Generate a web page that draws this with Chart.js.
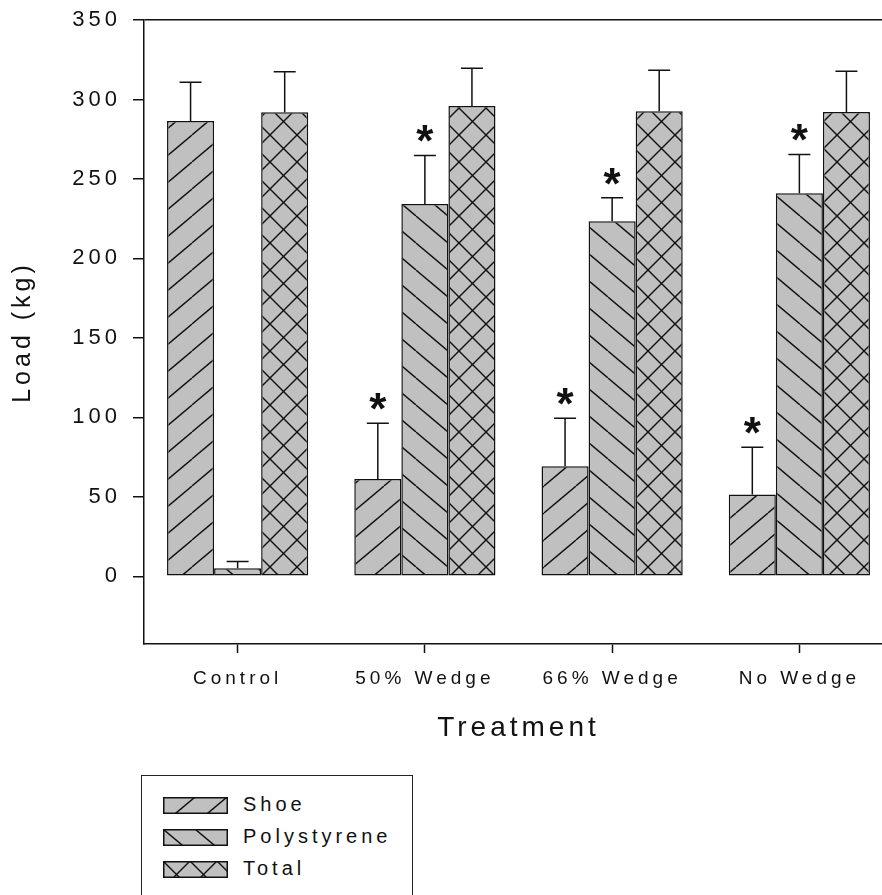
<!DOCTYPE html>
<html>
<head>
<meta charset="utf-8">
<script src="https://cdn.jsdelivr.net/npm/chart.js@4"></script>
<style>
  html, body { margin: 0; padding: 0; background: #fff; overflow: hidden; width: 882px; height: 895px; }
  #wrap { position: absolute; left: 0; top: 0; width: 893px; height: 770px; }
  #legend { position: absolute; left: 141px; top: 775px; width: 270px; height: 140px; border: 1px solid #222;
            font-family: 'Liberation Sans', Arial, sans-serif; font-size: 20px; letter-spacing: 4px; color: #111; }
  .item { position: absolute; left: 21px; width: 240px; height: 17px; }
  .item canvas { position: absolute; left: 0; top: 0; }
  .item span { position: absolute; left: 80px; top: -4px; line-height: 22px; white-space: nowrap; }
</style>
</head>
<body>
<div id="wrap"><canvas id="chart" width="893" height="770"></canvas></div>
<div id="legend"></div>
<script>
const categories = ['Control', '50% Wedge', '66% Wedge', 'No Wedge'];
const seriesNames = ['Shoe', 'Polystyrene', 'Total'];

const shoe = [286.4, 61.2, 69.2, 51.5];
const shoeErr = [24.5, 35.1, 30.3, 29.7];
const polystyrene = [5.0, 234.3, 223.4, 241.0];
const polystyreneErr = [4.3, 30.5, 14.7, 24.4];
const total = [291.9, 295.9, 292.6, 292.1];
const totalErr = [25.5, 23.7, 25.8, 25.7];

// significance marks (*) above the error bar
const shoeStar = [false, true, true, true];
const polystyreneStar = [false, true, true, true];
const totalStar = [false, false, false, false];

const yTicks = [0, 50, 100, 150, 200, 250, 300, 350];

const FONT = "'Liberation Sans', Arial, sans-serif";
const INK = '#111';

// gray fill with hatch lines, '/' or '\'
function hatch(target, dirs, w, h) {
    const c = document.createElement('canvas');
    c.width = w;
    c.height = h;
    const g = c.getContext('2d');
    g.fillStyle = '#c0c0c0';
    g.fillRect(0, 0, w, h);
    g.strokeStyle = INK;
    g.lineWidth = 1.4;
    dirs.forEach(function (d) {
        [-1, 0, 1].forEach(function (k) {
            g.beginPath();
            if (d === '/') {
                g.moveTo(k * w, h);
                g.lineTo(k * w + w, 0);
            } else {
                g.moveTo(k * w, 0);
                g.lineTo(k * w + w, h);
            }
            g.stroke();
        });
    });
    return target.createPattern(c, 'repeat');
}

const patterns = [
    { dirs: ['/'], w: 32, h: 27 },
    { dirs: ['\\'], w: 32, h: 27 },
    { dirs: ['/', '\\'], w: 27, h: 27 }
];

const spacing = {
    id: 'spacing',
    beforeUpdate(chart) { chart.ctx.letterSpacing = '4px'; },
    beforeDraw(chart) { chart.ctx.letterSpacing = '4px'; }
};

const errorBars = {
    id: 'errorBars',
    afterDatasetsDraw(chart) {
        const ctx = chart.ctx;
        const y = chart.scales.y;
        ctx.save();
        ctx.letterSpacing = '0px';
        ctx.strokeStyle = INK;
        ctx.lineWidth = 1.5;
        chart.data.datasets.forEach(function (ds, i) {
            const meta = chart.getDatasetMeta(i);
            meta.data.forEach(function (bar, j) {
                const top = y.getPixelForValue(ds.data[j] + ds.errors[j]);
                ctx.beginPath();
                ctx.moveTo(bar.x, bar.y);
                ctx.lineTo(bar.x, top);
                ctx.moveTo(bar.x - 11, top);
                ctx.lineTo(bar.x + 11, top);
                ctx.stroke();
                if (ds.stars[j]) {
                    ctx.font = 'bold 44px ' + FONT;
                    ctx.fillStyle = INK;
                    ctx.textAlign = 'center';
                    ctx.textBaseline = 'alphabetic';
                    const m = ctx.measureText('*');
                    ctx.fillText('*', bar.x, top - 13 - m.actualBoundingBoxDescent);
                }
            });
        });
        ctx.restore();
    }
};

const cv = document.getElementById('chart');
const c2d = cv.getContext('2d');

const common = {
    borderColor: INK,
    borderWidth: 1.5,
    borderSkipped: false,
    barPercentage: 1,
    categoryPercentage: 0.754
};

const chart = new Chart(cv, {
    type: 'bar',
    data: {
        labels: categories,
        datasets: [
            Object.assign({ label: seriesNames[0], data: shoe, errors: shoeErr, stars: shoeStar,
                backgroundColor: hatch(c2d, patterns[0].dirs, patterns[0].w, patterns[0].h) }, common),
            Object.assign({ label: seriesNames[1], data: polystyrene, errors: polystyreneErr, stars: polystyreneStar,
                backgroundColor: hatch(c2d, patterns[1].dirs, patterns[1].w, patterns[1].h) }, common),
            Object.assign({ label: seriesNames[2], data: total, errors: totalErr, stars: totalStar,
                backgroundColor: hatch(c2d, patterns[2].dirs, patterns[2].w, patterns[2].h) }, common)
        ]
    },
    options: {
        responsive: false,
        animation: false,
        devicePixelRatio: 1,
        layout: { padding: { top: 20, left: 0, right: 0, bottom: 0 } },
        plugins: {
            legend: { display: false },
            tooltip: { enabled: false }
        },
        scales: {
            x: {
                offset: true,
                grid: { drawOnChartArea: false, offset: false, tickLength: 9, tickColor: INK, tickWidth: 1.5 },
                border: { color: INK, width: 1.5 },
                ticks: { color: INK, font: { family: FONT, size: 19 }, padding: 14, maxRotation: 0 },
                title: {
                    display: true, text: 'Treatment', color: INK,
                    font: { family: FONT, size: 28 }, padding: { top: 0, bottom: 25 }
                },
                afterFit: function (s) { s.height = 126; s.paddingLeft = 0; s.paddingRight = 0; }
            },
            y: {
                min: -42.6,
                max: 350,
                afterBuildTicks: function (s) { s.ticks = yTicks.map(function (v) { return { value: v }; }); },
                grid: {
                    drawOnChartArea: true,
                    color: function (c) { return c.tick && c.tick.value === 350 ? INK : 'rgba(0,0,0,0)'; },
                    lineWidth: 1.5,
                    tickLength: 11,
                    tickColor: INK,
                    tickWidth: 1.5
                },
                border: { color: INK, width: 1.5 },
                ticks: { color: INK, font: { family: FONT, size: 22 }, padding: 12 },
                title: {
                    display: true, text: 'Load (kg)', color: INK,
                    font: { family: FONT, size: 25 }, padding: { top: 8, bottom: 0 }
                },
                afterFit: function (s) { s.width = 144; s.paddingTop = 0; s.paddingBottom = 0; }
            }
        }
    },
    plugins: [spacing, errorBars]
});

// legend box below the chart
const legend = document.getElementById('legend');
chart.data.datasets.forEach(function (ds, i) {
    const item = document.createElement('div');
    item.className = 'item';
    item.style.top = (21 + i * 32) + 'px';
    const sw = document.createElement('canvas');
    sw.width = 65;
    sw.height = 17;
    const g = sw.getContext('2d');
    g.fillStyle = hatch(g, patterns[i].dirs, patterns[i].w, patterns[i].h);
    g.fillRect(0, 0, 65, 17);
    g.strokeStyle = INK;
    g.lineWidth = 1.5;
    g.strokeRect(0.75, 0.75, 63.5, 15.5);
    const label = document.createElement('span');
    label.textContent = ds.label;
    item.appendChild(sw);
    item.appendChild(label);
    legend.appendChild(item);
});
</script>
</body>
</html>
